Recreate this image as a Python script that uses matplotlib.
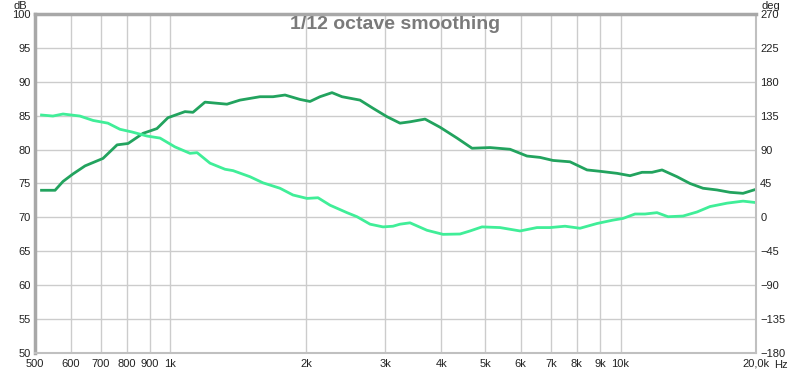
import numpy as np
import matplotlib.pyplot as plt
from matplotlib.ticker import FixedLocator, NullLocator

plt.rcParams['font.family'] = ['Liberation Sans', 'DejaVu Sans']

# Dark green trace (Hz, dB)
dark_freq = [517, 554, 577, 607, 646, 708, 761, 805, 869, 933, 987, 1077, 1122, 1193,
             1335, 1427, 1581, 1690, 1797, 1940, 2042, 2149, 2285, 2405, 2637, 2818,
             3028, 3236, 3406, 3678, 3971, 4332, 4678, 5128, 5682, 6197, 6624, 7079,
             7722, 8425, 9004, 9822, 10498, 11163, 11749, 12366, 13352, 14270, 15250,
             16380, 17510, 18715, 19900]
dark_db = [74.0, 74.0, 75.3, 76.4, 77.6, 78.7, 80.7, 80.9, 82.4, 83.1, 84.7, 85.6, 85.5, 87.0,
           86.7, 87.3, 87.8, 87.8, 88.05, 87.4, 87.1, 87.8, 88.4, 87.8, 87.3, 86.1,
           84.85, 83.9, 84.1, 84.5, 83.3, 81.7, 80.2, 80.3, 80.05, 79.05, 78.85, 78.4,
           78.2, 77.0, 76.8, 76.5, 76.15, 76.65, 76.65, 77.0, 76.0, 75.0, 74.3,
           74.05, 73.7, 73.55, 74.1]

# Light green trace (Hz, dB)
light_freq = [517, 548, 577, 629, 673, 726, 772, 821, 887, 948, 1023, 1105, 1146, 1224,
              1322, 1377, 1502, 1605, 1751, 1872, 2011, 2127, 2262, 2467, 2597, 2776,
              2966, 3122, 3236, 3406, 3715, 4032, 4399, 4630, 4923, 5398, 5980, 6522,
              6972, 7528, 8128, 8866, 9623, 10128, 10770, 11335, 12052, 12752, 13767,
              14790, 15807, 17246, 18715, 19900]
light_db = [85.1, 84.95, 85.25, 84.95, 84.3, 83.9, 83.0, 82.6, 82.0, 81.7, 80.4, 79.45, 79.55, 78.0,
            77.1, 76.9, 76.0, 75.1, 74.3, 73.3, 72.8, 72.9, 71.8, 70.7, 70.1, 69.0,
            68.6, 68.7, 69.0, 69.2, 68.1, 67.5, 67.55, 68.0, 68.6, 68.5, 68.0, 68.5,
            68.5, 68.7, 68.4, 69.1, 69.6, 69.85, 70.5, 70.5, 70.7, 70.1, 70.2,
            70.8, 71.6, 72.1, 72.4, 72.2]

x_ticks = [500, 600, 700, 800, 900, 1000, 2000, 3000, 4000, 5000, 6000, 7000, 8000,
           9000, 10000, 20000]
x_labels = ['500', '600', '700', '800', '900', '1k', '2k', '3k', '4k', '5k', '6k', '7k',
            '8k', '9k', '10k', '20,0k']
db_ticks = list(range(50, 101, 5))
deg_ticks = list(range(-180, 271, 45))

fig = plt.figure(figsize=(8, 3.73), dpi=100)
ax = fig.add_axes([35 / 800, 20 / 373, 721 / 800, 339 / 373])

ax.set_xscale('log')
ax.set_xlim(500, 20000)
ax.set_ylim(50, 100)

ax.xaxis.set_major_locator(FixedLocator(x_ticks))
ax.xaxis.set_minor_locator(NullLocator())
ax.set_xticklabels(x_labels)
ax.set_yticks(db_ticks)

ax.grid(True, which='major', color='#cccccc', linewidth=1)
ax.set_axisbelow(True)
ax.tick_params(axis='both', length=0, labelsize=8, colors='#222222')
ax.tick_params(axis='x', pad=4)
ax.tick_params(axis='y', pad=3)

for side in ['left', 'top']:
    ax.spines[side].set_color('#a8a8a8')
    ax.spines[side].set_linewidth(2.5)
for side in ['right', 'bottom']:
    ax.spines[side].set_color('#c0c0c0')
    ax.spines[side].set_linewidth(1.5)

ax.plot(dark_freq, dark_db, color='#22a35e', linewidth=2, solid_joinstyle='round')
ax.plot(light_freq, light_db, color='#40ee98', linewidth=2, solid_joinstyle='round')

# phase axis on the right
ax2 = ax.twinx()
ax2.set_ylim(-180, 270)
ax2.set_yticks(deg_ticks)
ax2.tick_params(axis='y', length=0, labelsize=8, colors='#222222', pad=3)
for s in ax2.spines.values():
    s.set_visible(False)

ax.text(0.5, 1 - 2 / 339, '1/12 octave smoothing', transform=ax.transAxes, ha='center', va='top',
        fontsize=14, fontweight='bold', color='#7a7a7a')
fig.text(20 / 800, 1 - 6 / 373, 'dB', ha='center', va='center', fontsize=8, color='#222222')
fig.text(771 / 800, 1 - 6 / 373, 'deg', ha='center', va='center', fontsize=8, color='#222222')
fig.text(774 / 800, 1 - 365 / 373, 'Hz', ha='left', va='center', fontsize=8, color='#222222')

fig.savefig('out.png', dpi=100)
